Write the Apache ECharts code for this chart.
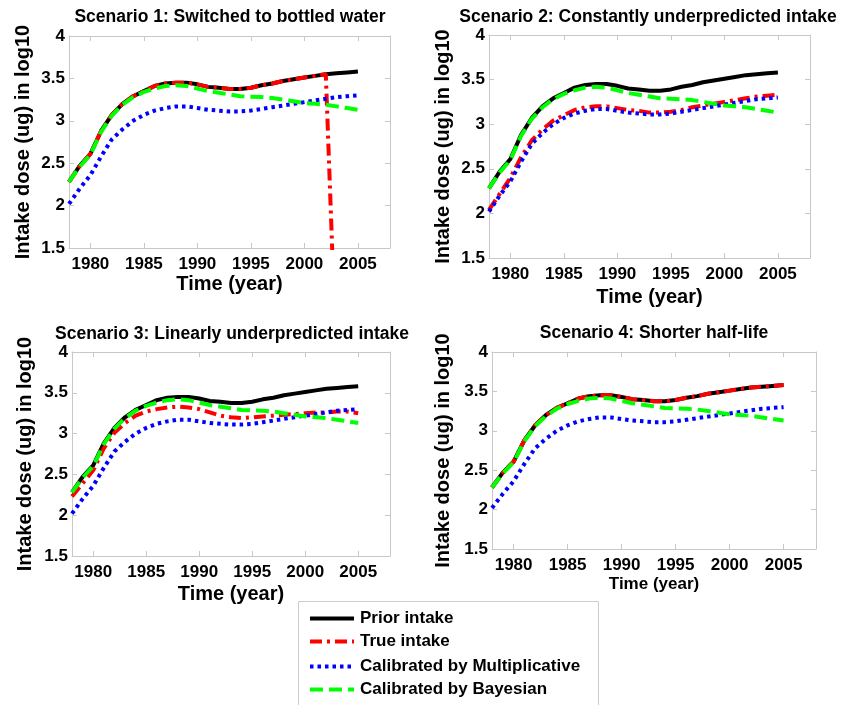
<!DOCTYPE html>
<html>
<head>
<meta charset="utf-8">
<title>Intake dose scenarios</title>
<script src="https://cdn.jsdelivr.net/npm/echarts@6/dist/echarts.min.js"></script>
<style>
  html, body { margin: 0; padding: 0; background: #fff; }
  #chart { width: 845px; height: 705px; }
</style>
</head>
<body>
<div id="chart"></div>
<script>
// data (log10 of intake dose, ug)
const years = [1978, 1979, 1980, 1981, 1982, 1983, 1984, 1985, 1986, 1987,
  1988, 1989, 1990, 1991, 1992, 1993, 1994, 1995, 1996, 1997,
  1998, 1999, 2000, 2001, 2002, 2003, 2004, 2005];

const priorIntake = [2.28, 2.47, 2.61, 2.88, 3.07, 3.20, 3.29, 3.35, 3.41, 3.44,
  3.45, 3.45, 3.43, 3.40, 3.39, 3.375, 3.375, 3.39, 3.42, 3.44,
  3.47, 3.49, 3.51, 3.53, 3.55, 3.56, 3.57, 3.58];

const multiplicative = [2.02, 2.20, 2.36, 2.58, 2.78, 2.90, 3.00, 3.07, 3.12, 3.15,
  3.17, 3.17, 3.15, 3.13, 3.12, 3.11, 3.11, 3.12, 3.14, 3.16,
  3.18, 3.20, 3.22, 3.24, 3.26, 3.28, 3.29, 3.30];

const bayesian = [2.28, 2.46, 2.60, 2.87, 3.06, 3.19, 3.28, 3.34, 3.38, 3.41,
  3.42, 3.41, 3.38, 3.35, 3.33, 3.31, 3.29, 3.285, 3.28, 3.27,
  3.25, 3.23, 3.21, 3.20, 3.19, 3.17, 3.15, 3.13];

// true intake per scenario
const trueS1 = [2.28, 2.47, 2.61, 2.88, 3.07, 3.20, 3.29, 3.35, 3.41, 3.44,
  3.45, 3.45, 3.43, 3.40, 3.39, 3.375, 3.375, 3.39, 3.42, 3.44,
  3.47, 3.49, 3.51, 3.53, 3.55, 0.10, 0.10, 0.10];

const trueS2 = [2.04, 2.22, 2.40, 2.63, 2.82, 2.94, 3.04, 3.10, 3.16, 3.19,
  3.20, 3.20, 3.18, 3.16, 3.15, 3.13, 3.13, 3.14, 3.16, 3.19,
  3.21, 3.23, 3.25, 3.27, 3.29, 3.31, 3.32, 3.33];

const trueS3 = [2.23, 2.39, 2.55, 2.82, 3.01, 3.13, 3.22, 3.27, 3.30, 3.32,
  3.33, 3.32, 3.30, 3.26, 3.22, 3.20, 3.19, 3.20, 3.21, 3.22,
  3.23, 3.24, 3.25, 3.26, 3.26, 3.27, 3.27, 3.25];

const trueS4 = [2.28, 2.47, 2.61, 2.88, 3.07, 3.20, 3.29, 3.35, 3.41, 3.44,
  3.45, 3.45, 3.43, 3.40, 3.39, 3.375, 3.375, 3.39, 3.42, 3.44,
  3.47, 3.49, 3.51, 3.53, 3.55, 3.56, 3.57, 3.58];

const trueIntake = [trueS1, trueS2, trueS3, trueS4];

const xTicks = [1980, 1985, 1990, 1995, 2000, 2005];
const yTicks = [1.5, 2, 2.5, 3, 3.5, 4];

const titles = [
  'Scenario 1: Switched to bottled water',
  'Scenario 2: Constantly underpredicted intake',
  'Scenario 3: Linearly underpredicted intake',
  'Scenario 4: Shorter half-life'
];
const seriesNames = ['Prior intake', 'True intake', 'Calibrated by Multiplicative', 'Calibrated by Bayesian'];

// layout of the four panels (px)
const panels = [
  { left: 69, top: 36, width: 321, height: 212, titleX: 230, titleTop: 3, yGap: 36, xGap: 26, xNameSize: 20 },
  { left: 489, top: 35, width: 321, height: 223, titleX: 648, titleTop: 3, yGap: 36, xGap: 29, xNameSize: 20 },
  { left: 72, top: 352, width: 318, height: 204, titleX: 232, titleTop: 320, yGap: 37, xGap: 28, xNameSize: 20 },
  { left: 492, top: 352, width: 324, height: 197, titleX: 654, titleTop: 319, yGap: 39, xGap: 27, xNameSize: 17 }
];
// legend rows (centre y) and box
const legendRows = [619, 642, 667, 690];
const legendBox = { x: 298.5, y: 601.5, width: 300, height: 110 };

const font = '"Liberation Sans", Arial, Helvetica, sans-serif';
const boxColor = '#c8c8c8';
const lineStyles = [
  { color: '#000000', type: 'solid' },
  { color: '#ff0000', type: [12, 5, 3, 5] },
  { color: '#0000ff', type: [3.5, 4] },
  { color: '#00ff00', type: [13, 6] }
];

function pairs(vals) {
  return years.map((y, i) => [y, vals[i]]);
}
const plainNum = v => String(v);

const grid = [], xAxis = [], yAxis = [], series = [], title = [];

panels.forEach((p, i) => {
  grid.push({ left: p.left, top: p.top, width: p.width, height: p.height, containLabel: false });
  title.push({
    text: titles[i], left: p.titleX - 5, top: p.titleTop, textAlign: 'center',
    textStyle: { fontFamily: font, fontSize: 17.5, fontWeight: 'bold', color: '#000' }
  });

  const tickCommon = { show: true, inside: true, length: 5, lineStyle: { color: boxColor } };
  xAxis.push({
    type: 'value', gridIndex: i, position: 'bottom', min: 1978, max: 2008,
    axisLine: { show: true, onZero: false, lineStyle: { color: boxColor, width: 1 } },
    axisTick: Object.assign({ customValues: xTicks }, tickCommon),
    axisLabel: { customValues: xTicks, formatter: plainNum, margin: 8, color: '#000', fontFamily: font, fontSize: 17, fontWeight: 'bold' },
    splitLine: { show: false },
    name: 'Time (year)', nameLocation: 'middle', nameGap: p.xGap,
    nameTextStyle: { fontFamily: font, fontSize: p.xNameSize, fontWeight: 'bold', color: '#000' }
  });
  xAxis.push({
    type: 'value', gridIndex: i, position: 'top', min: 1978, max: 2008,
    axisLine: { show: true, onZero: false, lineStyle: { color: boxColor, width: 1 } },
    axisTick: Object.assign({ customValues: xTicks }, tickCommon),
    axisLabel: { show: false },
    splitLine: { show: false }
  });
  yAxis.push({
    type: 'value', gridIndex: i, position: 'left', min: 1.5, max: 4, interval: 0.5,
    axisLine: { show: true, onZero: false, lineStyle: { color: boxColor, width: 1 } },
    axisTick: Object.assign({ customValues: yTicks }, tickCommon),
    axisLabel: { customValues: yTicks, formatter: plainNum, margin: 4, color: '#000', fontFamily: font, fontSize: 17, fontWeight: 'bold' },
    splitLine: { show: false },
    name: 'Intake dose (ug) in log10', nameLocation: 'middle', nameGap: p.yGap,
    nameTextStyle: { fontFamily: font, fontSize: 20, fontWeight: 'bold', color: '#000' }
  });
  yAxis.push({
    type: 'value', gridIndex: i, position: 'right', min: 1.5, max: 4, interval: 0.5,
    axisLine: { show: true, onZero: false, lineStyle: { color: boxColor, width: 1 } },
    axisTick: Object.assign({ customValues: yTicks }, tickCommon),
    axisLabel: { show: false },
    splitLine: { show: false }
  });

  const sets = [priorIntake, trueIntake[i], multiplicative, bayesian];
  sets.forEach((vals, k) => {
    series.push({
      name: seriesNames[k], type: 'line',
      xAxisIndex: i * 2, yAxisIndex: i * 2,
      data: pairs(vals),
      symbol: 'none', clip: true,
      lineStyle: { color: lineStyles[k].color, type: lineStyles[k].type, width: 4, cap: 'butt' },
      itemStyle: { color: lineStyles[k].color },
      z: 2 + k
    });
  });
});

// one legend per row so the layout matches the boxed legend of the figure
const legend = seriesNames.map((name, k) => ({
  data: [name],
  orient: 'vertical',
  left: 308, top: legendRows[k] - 9,
  padding: 0,
  itemWidth: 44, itemHeight: 14, itemGap: 0,
  itemStyle: { opacity: 0 },
  lineStyle: { width: 4, type: lineStyles[k].type, color: lineStyles[k].color, cap: 'butt' },
  textStyle: { fontFamily: font, fontSize: 17, fontWeight: 'bold', color: '#000', padding: [0, 0, 0, 1] }
}));

const chart = echarts.init(document.getElementById('chart'), null, { renderer: 'canvas' });
chart.setOption({
  backgroundColor: '#ffffff',
  animation: false,
  title: title,
  grid: grid,
  xAxis: xAxis,
  yAxis: yAxis,
  legend: legend,
  graphic: [{
    type: 'rect', z: 0, silent: true,
    shape: legendBox,
    style: { fill: '#ffffff', stroke: '#cccccc', lineWidth: 1 }
  }],
  series: series
});
</script>
</body>
</html>
